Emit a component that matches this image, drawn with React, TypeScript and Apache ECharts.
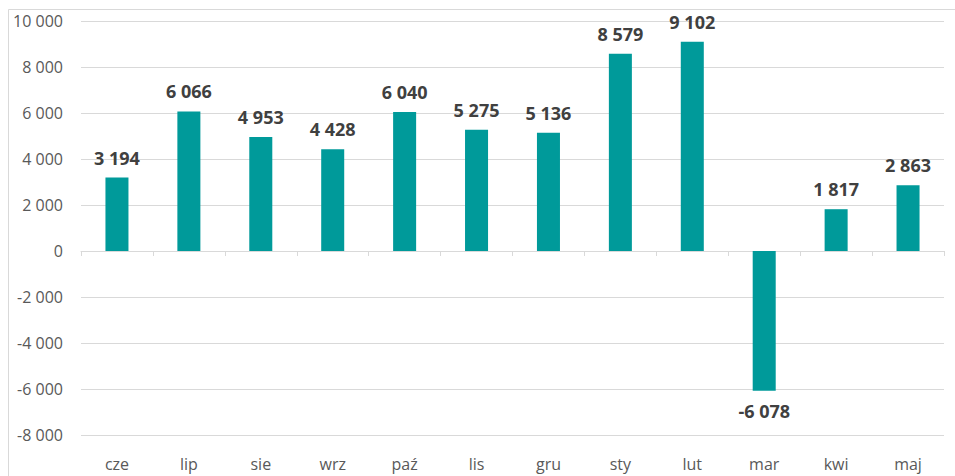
import React, { useEffect, useRef } from "react";
import * as echarts from "echarts";

const categories = ["cze", "lip", "sie", "wrz", "paź", "lis", "gru", "sty", "lut", "mar", "kwi", "maj"];
const values = [3194, 6066, 4953, 4428, 6040, 5275, 5136, 8579, 9102, -6078, 1817, 2863];
const yTicks = { min: -8000, max: 10000, interval: 2000 };

const fmt = (v: number) => {
  const s = Math.abs(Math.round(v)).toString().replace(/\B(?=(\d{3})+(?!\d))/g, " ");
  return (v < 0 ? "-" : "") + s;
};

export default function App() {
  const ref = useRef<HTMLDivElement>(null);
  useEffect(() => {
    if (!ref.current) return;
    const chart = echarts.init(ref.current, undefined, { renderer: "svg" });
    const font = "'Open Sans', 'Noto Sans', sans-serif";
    chart.setOption({
      animation: false,
      backgroundColor: "#ffffff",
      graphic: [
        {
          type: "rect",
          shape: { x: 8.5, y: 9.5, width: 1000, height: 600 },
          style: { fill: "none", stroke: "#d9d9d9", lineWidth: 1 },
          silent: true,
          z: -1,
        },
      ],
      grid: { left: 81, right: 11, top: 21, bottom: 41, containLabel: false },
      xAxis: [
        {
          type: "category",
          data: categories,
          position: "bottom",
          axisLine: { show: false, onZero: false },
          axisTick: { show: false },
          axisLabel: { color: "#595959", fontSize: 16, fontFamily: font, margin: 21 },
        },
        {
          type: "category",
          data: categories,
          position: "bottom",
          axisLine: { show: true, onZero: true, lineStyle: { color: "#d9d9d9", width: 1 } },
          axisTick: { show: true, length: 5, lineStyle: { color: "#d9d9d9" } },
          axisLabel: { show: false },
        },
      ],
      yAxis: {
        type: "value",
        min: yTicks.min,
        max: yTicks.max,
        interval: yTicks.interval,
        axisLine: { show: false },
        axisTick: { show: false },
        splitLine: { lineStyle: { color: "#d9d9d9", width: 1 } },
        axisLabel: {
          color: "#595959",
          fontSize: 16,
          fontFamily: font,
          margin: 18,
          formatter: (v: number) => fmt(v),
        },
      },
      series: [
        {
          type: "bar",
          xAxisIndex: 0,
          barWidth: "32%",
          itemStyle: { color: "#009a9a" },
          data: values.map((v) => ({
            value: v,
            label: { position: v < 0 ? "bottom" : "top" },
          })),
          label: {
            show: true,
            distance: 11,
            color: "#404040",
            fontSize: 18,
            fontWeight: "bold",
            fontFamily: font,
            formatter: (p: any) => fmt(p.value),
          },
        },
      ],
    });
    return () => chart.dispose();
  }, []);
  return (
    <div
      ref={ref}
      style={{ position: "fixed", left: 0, top: 0, width: 955, height: 476 }}
    />
  );
}
